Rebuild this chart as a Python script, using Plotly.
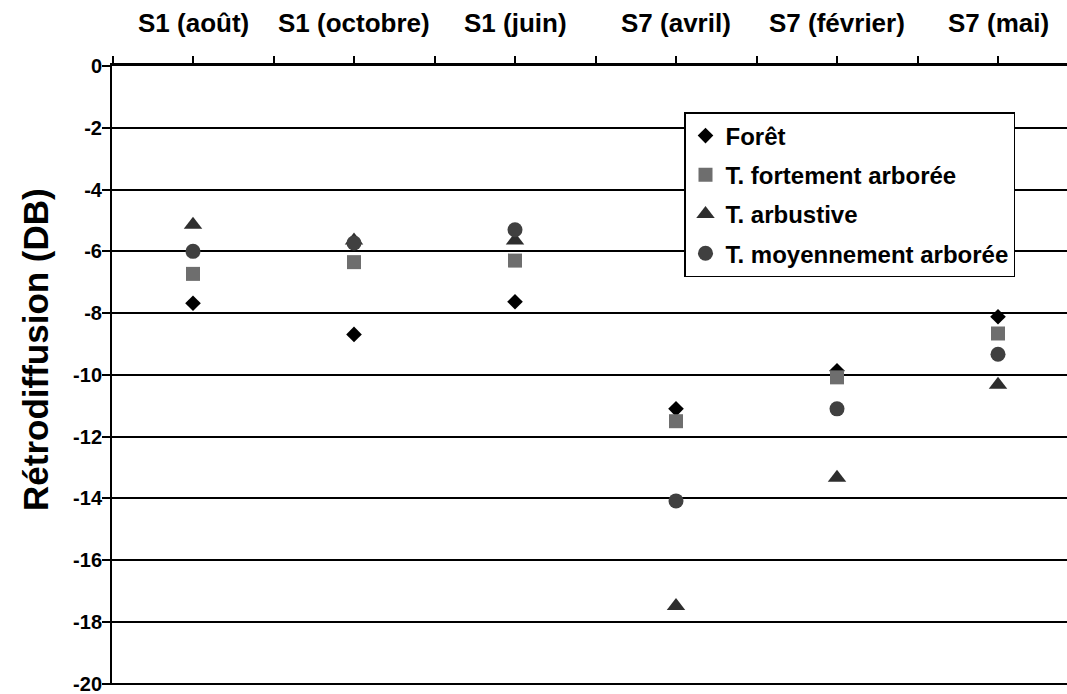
import plotly.graph_objects as go

# Sites / acquisition dates shown along the top axis
categories = ["S1 (août)", "S1 (octobre)", "S1 (juin)", "S7 (avril)", "S7 (février)", "S7 (mai)"]

# Backscatter values (dB) per land-cover class
foret = [-7.68, -8.69, -7.63, -11.10, -9.87, -8.12]
fortement_arboree = [-6.73, -6.35, -6.30, -11.50, -10.08, -8.66]
arbustive = [-5.14, -5.65, -5.65, -17.48, -13.33, -10.32]
moyennement_arboree = [-6.00, -5.73, -5.30, -14.08, -11.10, -9.33]

y_tick_values = [0, -2, -4, -6, -8, -10, -12, -14, -16, -18, -20]
y_tick_labels = ["0", "-2", "-4", "-6", "-8", "-10", "-12", "-14", "-16", "-18", "-20"]

FONT = "Liberation Sans, Arial, sans-serif"
x_pos = list(range(len(categories)))

TOP, BOTTOM = 66, 9
PLOT_H = 694 - TOP - BOTTOM

series = [
    ("Forêt", foret, "diamond", "#000000", 12),
    ("T. fortement arborée", fortement_arboree, "square", "#6e6e6e", 14),
    ("T. arbustive", arbustive, "triangle-up", "#2e2e2e", 16),
    ("T. moyennement arborée", moyennement_arboree, "circle", "#404040", 15),
]

fig = go.Figure()
for i, (name, vals, sym, col, size) in enumerate(series):
    fig.add_trace(go.Scatter(
        x=x_pos, y=vals, mode="markers", name=name,
        legendgroup=f"g{i}",
        marker=dict(symbol=sym, color=col, size=size, line=dict(width=0)),
    ))

# Category labels above the top axis
for i, lab in enumerate(categories):
    fig.add_annotation(
        x=i, xref="x", y=1 + 43 / PLOT_H, yref="paper",
        text=f"<b>{lab}</b>", showarrow=False,
        xanchor="center", yanchor="middle",
        font=dict(family=FONT, size=26, color="black"),
    )

fig.add_annotation(
    x=-(112 - 36) / 955, xref="paper", y=1 - (350 - TOP) / PLOT_H, yref="paper",
    text="<b>Rétrodiffusion (DB)</b>", textangle=-90, showarrow=False,
    xanchor="center", yanchor="middle",
    font=dict(family=FONT, size=35, color="black"),
)

x_range = [(112 - 193) / 161, (1067 - 193) / 161]

fig.update_layout(
    width=1067, height=694,
    margin=dict(l=112, r=0, t=TOP, b=BOTTOM),
    paper_bgcolor="white", plot_bgcolor="white",
    font=dict(family=FONT, color="black"),
    xaxis=dict(
        side="top", range=x_range, showline=True, linecolor="black", linewidth=2.5,
        ticks="outside", ticklen=7, tickwidth=1.5, tickcolor="black",
        tick0=-0.5, dtick=0.5, showticklabels=False, showgrid=False, zeroline=False,
        automargin=False,
    ),
    xaxis2=dict(
        overlaying="x", side="top", range=x_range, showline=False,
        ticks="inside", ticklen=7, tickwidth=1.5, tickcolor="black",
        tick0=-0.5, dtick=0.5, showticklabels=False, showgrid=False, zeroline=False,
        automargin=False,
    ),
    yaxis=dict(
        range=[-20.04, 0], showline=True, linecolor="black", linewidth=2,
        ticks="outside", ticklen=8, tickwidth=1.5, tickcolor="black",
        tickvals=y_tick_values, ticktext=[f"<b>{t}</b>" for t in y_tick_labels],
        tickfont=dict(family=FONT, size=20, color="black"),
        ticklabelstandoff=-4, ticklabeloverflow="allow", automargin=False,
        showgrid=True, gridcolor="black", gridwidth=2, zeroline=False,
    ),
    legend=dict(
        x=(684 - 112) / 955, xanchor="left",
        y=1 - (112 - TOP) / PLOT_H, yanchor="top",
        bgcolor="white", bordercolor="black", borderwidth=1.5,
        font=dict(family=FONT, size=24, weight="bold", color="black"),
        tracegroupgap=5, traceorder="grouped",
    ),
    showlegend=True,
)

fig.write_html("out.html")
